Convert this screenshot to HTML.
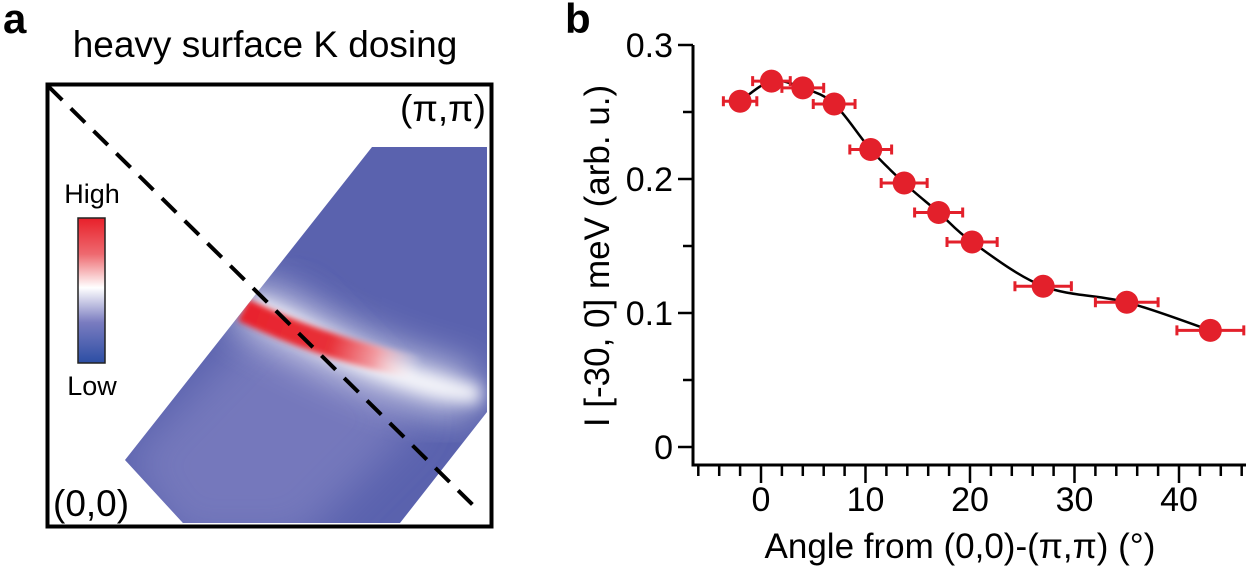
<!DOCTYPE html>
<html><head><meta charset="utf-8"><style>
html,body{margin:0;padding:0;background:#fff;}
svg{display:block;font-family:"Liberation Sans",sans-serif;}
</style></head><body>
<svg width="1257" height="569" viewBox="0 0 1257 569" xmlns="http://www.w3.org/2000/svg">
<defs>
  <clipPath id="hm"><polygon points="372,147 487,147 487,412 400,523 183,523 125,460"/></clipPath>
  <filter id="b8" x="-50%" y="-50%" width="200%" height="200%"><feGaussianBlur stdDeviation="8"/></filter>
  <filter id="b3" x="-50%" y="-50%" width="200%" height="200%"><feGaussianBlur stdDeviation="3"/></filter>
  <filter id="b20" x="-50%" y="-50%" width="200%" height="200%"><feGaussianBlur stdDeviation="20"/></filter>
  <linearGradient id="cb" x1="0" y1="0" x2="0" y2="1">
    <stop offset="0" stop-color="#e8202a"/><stop offset="0.25" stop-color="#ee6a70"/>
    <stop offset="0.48" stop-color="#ffffff"/><stop offset="0.72" stop-color="#7a7cc0"/>
    <stop offset="1" stop-color="#2c4ea4"/>
  </linearGradient>
  <linearGradient id="streak" gradientUnits="userSpaceOnUse" x1="243" y1="310" x2="420" y2="368">
    <stop offset="0" stop-color="#e8222c"/><stop offset="0.5" stop-color="#e83038"/>
    <stop offset="0.75" stop-color="#f29aa0"/><stop offset="1" stop-color="#ffffff" stop-opacity="0"/>
  </linearGradient>
</defs>

<!-- Panel a -->
<text x="3" y="33" font-size="42" font-weight="bold">a</text>
<text x="265" y="57" font-size="37" text-anchor="middle">heavy surface K dosing</text>
<g clip-path="url(#hm)">
  <rect x="100" y="140" width="400" height="400" fill="#5a62ae"/>
  <polygon points="125,460 290,290 420,420 300,540 180,540" fill="#7478bc" filter="url(#b20)"/>
  <path d="M240,300 C300,330 360,370 470,395" stroke="#f4f4fa" stroke-width="44" fill="none" filter="url(#b20)" opacity="0.85"/>
  <path d="M250,305 C320,338 380,380 480,395" stroke="#ffffff" stroke-width="18" fill="none" filter="url(#b8)"/>
  <path d="M243,310 C285,330 340,352 420,368" stroke="url(#streak)" stroke-width="24" fill="none" filter="url(#b3)"/>
</g>
<rect x="78" y="218" width="27" height="145" fill="url(#cb)" stroke="#222" stroke-width="1.5"/>
<text x="92" y="203" font-size="27" text-anchor="middle">High</text>
<text x="92" y="395" font-size="27" text-anchor="middle">Low</text>
<line x1="48" y1="86" x2="480" y2="512" stroke="#000" stroke-width="4" stroke-dasharray="20,12"/>
<rect x="47.5" y="84.5" width="444" height="442" fill="none" stroke="#000" stroke-width="4"/>
<text x="486" y="121" font-size="37" text-anchor="end">(π,π)</text>
<text x="53" y="516" font-size="37">(0,0)</text>

<!-- Panel b -->
<text x="565" y="33" font-size="42" font-weight="bold">b</text>
<g id="chart"></g>
<text transform="translate(609,256) rotate(-90)" font-size="35" text-anchor="middle">I [-30, 0] meV (arb. u.)</text>
<text x="960" y="558" font-size="35" text-anchor="middle">Angle from (0,0)-(π,π) (°)</text>
</svg>
<script>
const angles = [-2, 1, 4, 7, 10.5, 13.7, 17, 20.2, 27, 35, 43];
const intensities = [0.258, 0.273, 0.268, 0.256, 0.222, 0.197, 0.175, 0.153, 0.120, 0.108, 0.087];
const angleErr = [1.6, 1.8, 2.0, 2.0, 2.0, 2.2, 2.3, 2.4, 2.7, 3.0, 3.2];
const yTicks = [0, 0.1, 0.2, 0.3];
const xTicks = [0, 10, 20, 30, 40];

const NS = "http://www.w3.org/2000/svg";
const g = document.getElementById('chart');
const X = v => 761 + (v - 0) * 10.45;
const Y = v => 447 - v * (402 / 0.3);
const X0 = 693, Y0 = 465, XEND = 1246;
function mk(tag, attrs, parent) {
  const e = document.createElementNS(NS, tag);
  for (const k in attrs) e.setAttribute(k, attrs[k]);
  (parent || g).appendChild(e);
  return e;
}
let ax = mk('path', {d: `M${X0},${Y(0.3)} L${X0},${Y0} L${XEND},${Y0}`, stroke: '#000', 'stroke-width': 3, fill: 'none'});


for (let v = 0; v <= 0.3001; v += 0.05) {
  const major = Math.abs(v * 10 - Math.round(v * 10)) < 1e-6;
  const t = mk('line', {x1: X0 - (major ? 15 : 10), x2: X0, y1: Y(v), y2: Y(v), stroke: '#000', 'stroke-width': 2.5});
  
  
}
yTicks.forEach(v => {
  const t = mk('text', {x: X0 - 20, y: Y(v) + 12, 'font-size': 34, 'text-anchor': 'end'});
  t.textContent = v === 0 ? '0' : v.toFixed(1);
  
  
});
for (let v = -6; v <= 46; v += 2) {
  if (X(v) < X0 + 3 || X(v) > XEND + 1) continue;
  const major = v % 10 === 0;
  const t = mk('line', {x1: X(v), x2: X(v), y1: Y0, y2: Y0 + (major ? 18 : 11), stroke: '#000', 'stroke-width': 2.5});
  
  
}
xTicks.forEach(v => {
  const t = mk('text', {x: X(v), y: Y0 + 46, 'font-size': 34, 'text-anchor': 'middle'});
  t.textContent = v;
  
  
});
const pts = angles.map((a, i) => [X(a), Y(intensities[i])]);
let d = `M${pts[0][0]},${pts[0][1]}`;
for (let i = 0; i < pts.length - 1; i++) {
  const p0 = pts[i - 1] || pts[i], p1 = pts[i], p2 = pts[i + 1], p3 = pts[i + 2] || p2;
  const c1 = [p1[0] + (p2[0] - p0[0]) / 6, p1[1] + (p2[1] - p0[1]) / 6];
  const c2 = [p2[0] - (p3[0] - p1[0]) / 6, p2[1] - (p3[1] - p1[1]) / 6];
  d += ` C${c1[0]},${c1[1]} ${c2[0]},${c2[1]} ${p2[0]},${p2[1]}`;
}
const curve = mk('path', {d: d, stroke: '#000', 'stroke-width': 2.5, fill: 'none'});


angles.forEach((a, i) => {
  const y = Y(intensities[i]), x1 = X(a - angleErr[i]), x2 = X(a + angleErr[i]);
  const eb = mk('path', {d: `M${x1},${y} L${x2},${y} M${x1},${y - 5} L${x1},${y + 5} M${x2},${y - 5} L${x2},${y + 5}`, stroke: '#e3202b', 'stroke-width': 3, fill: 'none'});
  
  
  const c = mk('circle', {cx: X(a), cy: y, r: 11.5, fill: '#e3202b'});
  
  
});
</script>
</body></html>
